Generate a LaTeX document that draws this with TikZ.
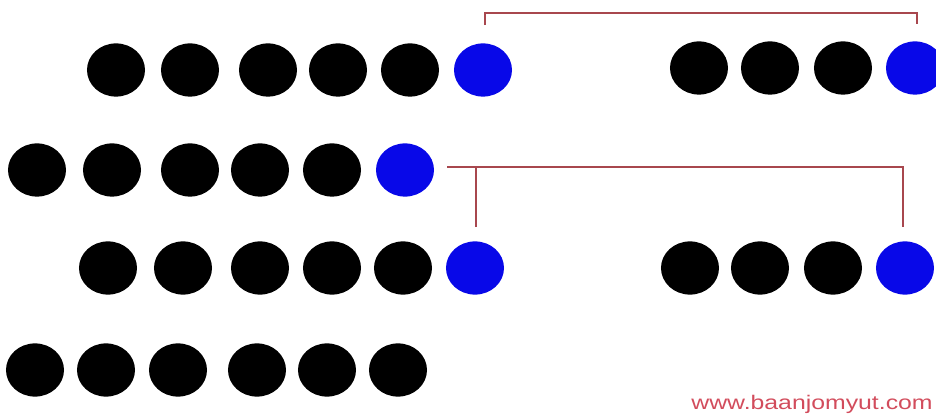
\documentclass[tikz,border=0pt]{standalone}
\usepackage{fontspec}
\setsansfont{Liberation Sans}
\usetikzlibrary{calc,shapes.geometric}
\definecolor{dotblue}{HTML}{0808E8}
\definecolor{bracketred}{HTML}{A8474E}
\definecolor{markred}{HTML}{D24C5C}
\tikzset{
  dotnode/.style={ellipse, inner sep=0pt, minimum width=1.45cm, minimum height=1.33cm},
  blackdot/.style={dotnode, fill=black},
  bluedot/.style={dotnode, fill=dotblue},
  bracketline/.style={draw=bracketred, line width=1.3pt},
  markfont/.style={font=\sffamily\fontsize{14pt}{14pt}\selectfont, text=markred, xscale=1.26, inner sep=0pt}
}

\begin{document}
\begin{tikzpicture}[x=0.025cm,y=-0.025cm]

  \useasboundingbox (0,0) rectangle (936,419);
  \clip (0,0) rectangle (936,419);

  % row 1
  \foreach \xx [count=\i] in {116,190,268,338,410}
    \node[blackdot] (ra\i) at (\xx,70) {};
  \node[bluedot] (raend) at (483,70) {};

  \foreach \xx [count=\i] in {699,770,843}
    \node[blackdot] (rb\i) at (\xx,68) {};
  \node[bluedot] (rbend) at (915,68) {};

  % row 2
  \foreach \xx [count=\i] in {37,112,190,260,332}
    \node[blackdot] (rc\i) at (\xx,170) {};
  \node[bluedot] (rcend) at (405,170) {};

  % row 3
  \foreach \xx [count=\i] in {108,183,260,332,403}
    \node[blackdot] (rd\i) at (\xx,268) {};
  \node[bluedot] (rdend) at (475,268) {};

  \foreach \xx [count=\i] in {690,760,833}
    \node[blackdot] (re\i) at (\xx,268) {};
  \node[bluedot] (reend) at (905,268) {};

  % row 4
  \foreach \xx [count=\i] in {35,106,178,257,327,398}
    \node[blackdot] (rf\i) at (\xx,370) {};

  % watermark
  \node[markfont, anchor=base east] (mark) at (933,410) {www.baanjomyut.com};

  % routing coordinates
  \coordinate (topL) at ($(raend.north)+(2,-18)$);
  \coordinate (topR) at ($(rbend.north)+(2,-17)$);
  \coordinate (midS) at ($(rcend.east)+(13,-3)$);
  \coordinate (midL) at ($(rdend.north)+(1,-14)$);
  \coordinate (midR) at ($(reend.north)+(-2,-14)$);

  % brackets
  \draw[bracketline] (topL) -- ++(0,-12) -| (topR);
  \draw[bracketline] (midS) -| (midR);
  \draw[bracketline] (midL) -- (midL |- midS);

\end{tikzpicture}
\end{document}
